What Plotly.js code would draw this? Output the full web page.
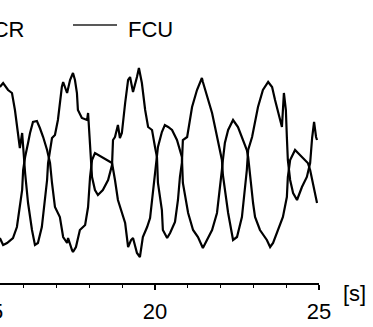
<!DOCTYPE html>
<html>
<head>
<meta charset="utf-8">
<script src="https://cdn.plot.ly/plotly-3.0.1.min.js"></script>
<style>
html,body{margin:0;padding:0;width:373px;height:327px;overflow:hidden;background:#fff;}
#chart{position:absolute;left:-40px;top:0;width:413px;height:327px;}
</style>
</head>
<body>
<div id="chart"></div>
<script>
// Time [s]
const tA = [15.27,15.37,15.52,15.64,15.73,15.82,15.88,15.95,15.98,16.04,16.13,16.25,16.34,16.43,16.55,16.65,16.71,16.74,16.86,16.95,17.04,17.16,17.20,17.32,17.41,17.50,17.56,17.62,17.65,17.77,17.93,17.96,17.99,18.05,18.08,18.17,18.26,18.41,18.57,18.69,18.72,18.78,18.87,18.93,18.99,19.09,19.18,19.24,19.33,19.45,19.51,19.60,19.70,19.79,19.91,20.00,20.06,20.09,20.21,20.24,20.37,20.46,20.61,20.70,20.76,20.82,20.85,20.98,21.13,21.28,21.43,21.46,21.59,21.74,21.83,21.92,21.98,22.04,22.07,22.13,22.23,22.38,22.50,22.65,22.74,22.80,22.84,22.96,23.14,23.29,23.45,23.57,23.66,23.81,23.87,23.93,23.99,24.02,24.05,24.12,24.21,24.33,24.48,24.63,24.73,24.79,24.85,24.91,24.94];
const ecr = [0.73,0.77,0.70,0.67,0.50,0.30,0.12,0.27,0.10,-0.13,-0.43,-0.70,-0.85,-0.83,-0.67,-0.40,-0.20,-0.03,0.22,0.25,0.40,0.73,0.78,0.67,0.80,0.87,0.80,0.67,0.50,0.42,0.40,0.47,0.33,0.00,-0.17,-0.30,-0.35,-0.30,-0.20,-0.05,0.20,0.23,0.35,0.22,0.27,0.57,0.80,0.83,0.68,0.83,0.92,0.77,0.50,0.33,0.30,0.13,0.03,-0.23,-0.50,-0.70,-0.78,-0.73,-0.62,-0.40,-0.17,-0.03,0.20,0.23,0.53,0.70,0.82,0.78,0.63,0.47,0.33,0.20,0.10,0.00,-0.15,-0.30,-0.53,-0.80,-0.77,-0.57,-0.30,-0.10,0.10,0.23,0.53,0.70,0.78,0.73,0.60,0.40,0.33,0.67,0.50,0.23,0.00,-0.20,-0.33,-0.40,-0.27,-0.17,-0.03,0.22,0.38,0.23,0.20];

const tB = [15.27,15.37,15.49,15.58,15.67,15.79,15.88,15.95,15.98,16.04,16.13,16.19,16.28,16.40,16.49,16.59,16.71,16.80,16.86,16.95,17.10,17.20,17.32,17.35,17.47,17.50,17.59,17.71,17.87,17.96,18.02,18.08,18.17,18.38,18.57,18.69,18.78,18.87,19.09,19.18,19.27,19.33,19.45,19.54,19.63,19.76,19.85,19.91,20.00,20.06,20.09,20.21,20.30,20.40,20.52,20.67,20.76,20.82,20.85,20.91,21.01,21.16,21.31,21.46,21.59,21.74,21.89,21.98,22.04,22.07,22.13,22.23,22.38,22.53,22.68,22.80,22.84,22.90,22.99,23.05,23.20,23.41,23.51,23.60,23.75,23.90,24.02,24.05,24.12,24.27,24.36,24.51,24.66,24.73,24.82,24.94];
const fcu = [-0.78,-0.85,-0.83,-0.80,-0.78,-0.67,-0.47,-0.30,-0.10,0.03,0.17,0.27,0.38,0.39,0.32,0.23,0.10,-0.03,-0.23,-0.47,-0.57,-0.77,-0.83,-0.78,-0.90,-0.92,-0.87,-0.70,-0.65,-0.47,-0.17,0.00,0.07,0.03,0.00,-0.03,-0.20,-0.40,-0.63,-0.87,-0.80,-0.78,-0.93,-0.97,-0.77,-0.67,-0.58,-0.40,-0.10,0.10,0.13,0.28,0.35,0.33,0.30,0.20,0.10,0.03,-0.23,-0.33,-0.53,-0.70,-0.77,-0.88,-0.80,-0.70,-0.53,-0.30,-0.10,0.00,0.17,0.30,0.40,0.33,0.20,0.10,0.03,-0.17,-0.43,-0.57,-0.70,-0.80,-0.87,-0.83,-0.70,-0.57,-0.37,-0.17,0.00,0.10,0.07,0.02,-0.03,-0.10,-0.23,-0.43];

const seriesNames = ["ECR", "FCU"];
const xTickVals = [15, 20, 25];
const xTickText = ["15", "20", "25"];
const xUnit = "[s]";

const FONT = "Liberation Sans, Arial, sans-serif";
const lineStyle = {color: "#000", width: 2.2};

const traces = [
  {x: tA, y: ecr, name: seriesNames[0], mode: "lines", line: lineStyle, showlegend: false, hoverinfo: "skip"},
  {x: tB, y: fcu, name: seriesNames[1], mode: "lines", line: lineStyle, showlegend: false, hoverinfo: "skip"}
];

const layout = {
  width: 413, height: 327,
  margin: {l: 10, r: 54, t: 50, b: 44, pad: 0},
  paper_bgcolor: "#fff", plot_bgcolor: "#fff",
  showlegend: false,
  font: {family: FONT, size: 22, color: "#000"},
  xaxis: {
    range: [14.36, 25], showgrid: false, zeroline: false,
    showline: true, linecolor: "#000", linewidth: 2,
    tickmode: "array", tickvals: xTickVals, ticktext: xTickText,
    ticks: "outside", ticklen: 5, tickwidth: 1.5, tickcolor: "#000",
    ticklabelstandoff: 3,
    tickfont: {family: FONT, size: 22, color: "#000"},
    minor: {dtick: 1, ticks: "outside", ticklen: 3, tickwidth: 1, tickcolor: "#000"}
  },
  yaxis: {range: [-1.23, 1.10], visible: false, showgrid: false, zeroline: false},
  shapes: [
    {type: "line", xref: "paper", yref: "paper", x0: 0.2951, x1: 0.4212, y0: 1.107, y1: 1.107,
     line: {color: "#222", width: 1.5}}
  ],
  annotations: [
    {text: seriesNames[0], xref: "paper", yref: "paper", x: 0.1576, y: 1.090, xanchor: "right", yanchor: "middle",
     showarrow: false, borderpad: 0, font: {family: FONT, size: 22, color: "#000"}},
    {text: seriesNames[1], xref: "paper", yref: "paper", x: 0.4499, y: 1.090, xanchor: "left", yanchor: "middle",
     showarrow: false, borderpad: 0, font: {family: FONT, size: 22, color: "#000"}},
    {text: xUnit, xref: "paper", yref: "paper", x: 1.066, y: -0.047, xanchor: "left", yanchor: "middle",
     showarrow: false, borderpad: 0, font: {family: FONT, size: 22, color: "#000"}}
  ]
};

Plotly.newPlot("chart", traces, layout, {staticPlot: true, displayModeBar: false});
</script>
</body>
</html>
